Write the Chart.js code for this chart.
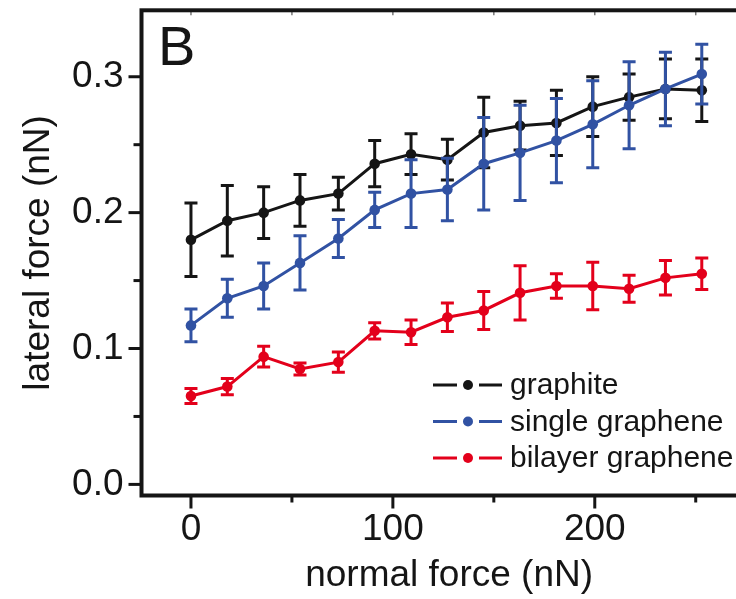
<!DOCTYPE html>
<html>
<head>
<meta charset="utf-8">
<script src="https://cdn.jsdelivr.net/npm/chart.js@4.4.0/dist/chart.umd.min.js"></script>
<style>
  html, body { margin: 0; padding: 0; background: #fff; overflow: hidden; }
  #frictionCanvas { display: block; }
</style>
</head>
<body>
<canvas id="frictionCanvas" width="762" height="599"></canvas>
<script>
// normal force (nN) of each measurement
const normalForce = [0, 18, 36, 54, 73, 91, 109, 127, 145, 163, 181, 199, 217, 235, 253];

// lateral force (nN) and error bar half-heights
const graphite = [0.180, 0.194, 0.200, 0.209, 0.214, 0.236, 0.243, 0.239, 0.259, 0.264, 0.266, 0.278, 0.285, 0.291, 0.290];
const graphiteErr = [0.027, 0.026, 0.019, 0.019, 0.012, 0.017, 0.015, 0.015, 0.026, 0.018, 0.024, 0.022, 0.017, 0.022, 0.023];

const singleGraphene = [0.117, 0.137, 0.146, 0.163, 0.181, 0.202, 0.214, 0.217, 0.236, 0.244, 0.253, 0.265, 0.279, 0.291, 0.302];
const singleGrapheneErr = [0.012, 0.014, 0.017, 0.020, 0.014, 0.013, 0.025, 0.023, 0.034, 0.035, 0.031, 0.032, 0.032, 0.027, 0.022];

const bilayerGraphene = [0.065, 0.072, 0.094, 0.085, 0.090, 0.113, 0.112, 0.123, 0.128, 0.141, 0.146, 0.146, 0.144, 0.152, 0.155];
const bilayerGrapheneErr = [0.0055, 0.006, 0.0076, 0.0044, 0.0075, 0.006, 0.009, 0.0105, 0.014, 0.020, 0.009, 0.0175, 0.010, 0.0127, 0.0116];

const seriesLabels = ["graphite", "single graphene", "bilayer graphene"];

const xTicks = [0, 100, 200];
const xMinorTicks = [50, 150, 250];
const xTickLabels = ["0", "100", "200"];
const yTicks = [0, 0.1, 0.2, 0.3];
const yMinorTicks = [0.05, 0.15, 0.25];
const yTickLabels = ["0.0", "0.1", "0.2", "0.3"];

const FONT = "'Liberation Sans', Arial, Helvetica, sans-serif";
const AXIS_COLOR = "#151515";
const colors = ["#151515", "#3152a3", "#e3001b"];

function toPoints(values) {
    return normalForce.map((x, i) => ({ x: x, y: values[i] }));
}

function makeDataset(i, values, errors, order) {
    return {
        label: seriesLabels[i],
        data: toPoints(values),
        errors: errors,
        borderColor: colors[i],
        backgroundColor: colors[i],
        borderWidth: 3,
        pointRadius: 5.3,
        pointBorderWidth: 0,
        pointBackgroundColor: colors[i],
        tension: 0,
        order: order
    };
}

// the frame is drawn by hand, so drop the label overhang padding
function fixBox(size) {
    return s => {
        if (s.isHorizontal()) s.height = size; else s.width = size;
        s.paddingTop = 0; s.paddingBottom = 0;
        s.paddingLeft = 0; s.paddingRight = 0;
    };
}

// error bars, drawn with each dataset so the layering follows the series
const errorBars = {
    id: "errorBars",
    afterDatasetDraw(chart, args) {
        const ds = chart.data.datasets[args.index];
        const xs = chart.scales.x, ys = chart.scales.y;
        const ctx = chart.ctx;
        ctx.save();
        ctx.strokeStyle = ds.borderColor;
        ctx.lineWidth = 3;
        ds.data.forEach((p, i) => {
            const e = ds.errors[i];
            const px = xs.getPixelForValue(p.x);
            const top = ys.getPixelForValue(p.y + e);
            const bot = ys.getPixelForValue(p.y - e);
            ctx.beginPath();
            ctx.moveTo(px, top); ctx.lineTo(px, bot);
            ctx.moveTo(px - 6.5, top); ctx.lineTo(px + 6.5, top);
            ctx.moveTo(px - 6.5, bot); ctx.lineTo(px + 6.5, bot);
            ctx.stroke();
        });
        ctx.restore();
    }
};

// frame, tick marks, panel letter and legend
const decorations = {
    id: "decorations",
    afterDraw(chart) {
        const { ctx, chartArea: a } = chart;
        const xs = chart.scales.x, ys = chart.scales.y;
        ctx.save();

        // top mirror ticks (small, inside)
        ctx.lineWidth = 1.5;
        ctx.strokeStyle = "#777";
        xTicks.concat(xMinorTicks).forEach(v => {
            const px = xs.getPixelForValue(v);
            ctx.beginPath(); ctx.moveTo(px, a.top); ctx.lineTo(px, a.top + 5); ctx.stroke();
        });

        ctx.strokeStyle = AXIS_COLOR;
        ctx.lineWidth = 3;
        xTicks.forEach(v => {
            const px = xs.getPixelForValue(v);
            ctx.beginPath(); ctx.moveTo(px, a.bottom); ctx.lineTo(px, a.bottom + 13); ctx.stroke();
        });
        xMinorTicks.forEach(v => {
            const px = xs.getPixelForValue(v);
            ctx.beginPath(); ctx.moveTo(px, a.bottom); ctx.lineTo(px, a.bottom + 7); ctx.stroke();
        });
        yTicks.forEach(v => {
            const py = ys.getPixelForValue(v);
            ctx.beginPath(); ctx.moveTo(a.left, py); ctx.lineTo(a.left - 13, py); ctx.stroke();
        });
        yMinorTicks.forEach(v => {
            const py = ys.getPixelForValue(v);
            ctx.beginPath(); ctx.moveTo(a.left, py); ctx.lineTo(a.left - 8, py); ctx.stroke();
        });

        ctx.lineWidth = 4;
        ctx.strokeRect(a.left, a.top, a.right - a.left, a.bottom - a.top);

        // panel letter
        ctx.fillStyle = AXIS_COLOR;
        ctx.font = "56px " + FONT;
        ctx.textBaseline = "alphabetic";
        ctx.textAlign = "left";
        ctx.fillText("B", 158, 65);

        // legend
        const lx = 433, ly = 385, rowGap = 36.5;
        ctx.font = "30px " + FONT;
        ctx.textBaseline = "middle";
        chart.data.datasets.forEach((ds, i) => {
            const y = ly + i * rowGap;
            ctx.strokeStyle = ds.borderColor;
            ctx.fillStyle = ds.borderColor;
            ctx.lineWidth = 3;
            ctx.beginPath();
            ctx.moveTo(lx, y); ctx.lineTo(lx + 24, y);
            ctx.moveTo(lx + 46, y); ctx.lineTo(lx + 69, y);
            ctx.stroke();
            ctx.beginPath(); ctx.arc(lx + 35, y, 5, 0, Math.PI * 2); ctx.fill();
            ctx.fillStyle = AXIS_COLOR;
            ctx.fillText(ds.label, lx + 77, y + 1);
        });
        ctx.restore();
    }
};

const frictionChart = new Chart(document.getElementById("frictionCanvas"), {
    type: "line",
    data: {
        datasets: [
            makeDataset(0, graphite, graphiteErr, 3),
            makeDataset(1, singleGraphene, singleGrapheneErr, 2),
            makeDataset(2, bilayerGraphene, bilayerGrapheneErr, 1)
        ]
    },
    options: {
        responsive: false,
        animation: false,
        events: [],
        layout: {
            padding: { top: 10.3, right: 5, bottom: 0, left: 0 }
        },
        plugins: {
            legend: { display: false },
            tooltip: { enabled: false }
        },
        scales: {
            x: {
                type: "linear",
                min: -24.5,
                max: 280.2,
                afterBuildTicks: s => { s.ticks = xTicks.map(v => ({ value: v })); },
                afterFit: fixBox(103.5),
                grid: { display: false, drawTicks: false },
                border: { display: false },
                ticks: {
                    padding: 12,
                    maxRotation: 0,
                    autoSkip: false,
                    color: AXIS_COLOR,
                    font: { family: FONT, size: 37 },
                    callback: (v, i) => xTickLabels[i]
                },
                title: {
                    display: true,
                    text: "normal force (nN)",
                    color: AXIS_COLOR,
                    font: { family: FONT, size: 37 },
                    padding: { top: 0, bottom: 1 }
                }
            },
            y: {
                type: "linear",
                min: -0.00817,
                max: 0.3489,
                afterBuildTicks: s => { s.ticks = yTicks.map(v => ({ value: v })); },
                afterFit: fixBox(141.5),
                grid: { display: false, drawTicks: false },
                border: { display: false },
                ticks: {
                    padding: 18,
                    autoSkip: false,
                    color: AXIS_COLOR,
                    font: { family: FONT, size: 37 },
                    callback: (v, i) => yTickLabels[i]
                },
                title: {
                    display: true,
                    text: "lateral force (nN)",
                    color: AXIS_COLOR,
                    font: { family: FONT, size: 37 },
                    padding: { top: 17, bottom: 0 }
                }
            }
        }
    },
    plugins: [errorBars, decorations]
});
</script>
</body>
</html>
